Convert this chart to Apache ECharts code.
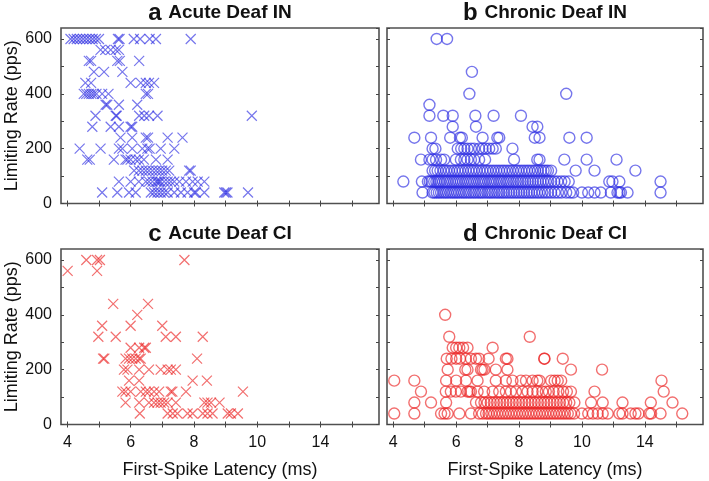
<!DOCTYPE html>
<html><head><meta charset="utf-8">
<script src="https://cdn.jsdelivr.net/npm/echarts@6/dist/echarts.min.js"></script>
<style>html,body{margin:0;padding:0;background:#fff}#c{width:709px;height:481px}</style>
</head><body><div id="c"></div><script>
// ---- axis ticks / labels ----
const xTickValues = [4, 5, 6, 7, 8, 9, 10, 11, 12, 13];
const xLabelValues = [4, 6, 8, 10, 12];
const xLabelTexts = ['4', '6', '8', '10', '14'];
const yLabelValues = [0, 200, 400, 600];

const panelLetters = ['a', 'b', 'c', 'd'];
const panelTitles = ['Acute Deaf IN', 'Chronic Deaf IN', 'Acute Deaf CI', 'Chronic Deaf CI'];

// ---- data: [first-spike latency (axis units), limiting rate (pps)] ----
const acuteIN = [
  [4.1,600],[4.2,600],[4.3,600],[4.4,600],[4.5,600],[4.6,600],[4.7,600],[4.8,600],[4.9,600],[5.0,600],[5.6,600],[5.65,600],[6.1,600],[6.3,600],[6.6,600],[6.8,600],[7.9,600],
  [5.05,560],[5.2,560],[5.37,560],[5.53,560],[5.63,560],
  [4.68,520],[4.75,520],[5.58,520],[5.66,520],[6.27,520],
  [4.84,480],[5.16,480],[5.74,480],
  [4.57,440],[4.75,440],[6.0,440],[6.32,440],[6.48,440],[6.58,440],[6.74,440],
  [4.52,400],[4.6,400],[4.68,400],[4.76,400],[4.84,400],[4.92,400],[5.1,400],[5.3,400],[6.48,400],[6.55,400],
  [5.21,360],[5.26,360],[5.63,360],[6.21,360],
  [4.89,320],[5.53,320],[5.56,320],[6.27,320],[6.43,320],[6.58,320],[6.85,320],[9.83,320],
  [4.79,280],[5.37,280],[5.63,280],[6.0,280],[6.05,280],
  [5.68,240],[6.05,240],[6.48,240],[6.55,240],[7.17,240],[7.64,240],
  [4.39,200],[5.05,200],[5.63,200],[5.74,200],[6.05,200],[6.37,200],[6.53,200],[6.6,200],[6.95,200],[7.38,200],
  [4.63,160],[4.71,160],[5.47,160],[5.84,160],[5.9,160],[6.0,160],[6.16,160],[6.26,160],[6.42,160],[6.8,160],[7.17,160],
  [6.11,120],[6.26,120],[6.37,120],[6.48,120],[6.58,120],[6.69,120],[6.8,120],[6.9,120],[7.0,120],[7.11,120],[7.22,120],[7.85,120],[7.9,120],
  [5.63,80],[6.0,80],[6.26,80],[6.48,80],[6.58,80],[6.69,80],[6.8,80],[6.85,80],[6.9,80],[6.95,80],[7.06,80],[7.17,80],[7.27,80],[7.38,80],[7.54,80],[7.75,80],[7.96,80],[8.12,80],[8.33,80],
  [5.1,40],[5.58,40],[5.95,40],[6.16,40],[6.64,40],[6.74,40],[6.85,40],[6.95,40],[7.06,40],[7.17,40],[7.38,40],[7.59,40],[7.8,40],[8.01,40],[8.06,40],[8.33,40],[8.96,40],[9.01,40],[9.06,40],[9.71,40]
];

const chronicIN = [
  [5.38,600],[5.71,600],
  [6.5,480],
  [6.42,400],[9.5,400],
  [5.15,360],
  [5.15,320],[5.59,320],[5.89,320],[6.61,320],[7.19,320],[8.06,320],
  [5.89,280],[6.63,280],[8.43,280],[8.58,280],
  [4.67,240],[5.2,240],[5.81,240],[6.12,240],[6.18,240],[6.84,240],[7.31,240],[7.37,240],[8.5,240],[8.65,240],[9.6,240],[10.15,240],
  [5.25,200],[5.34,200],[6.05,200],[6.16,200],[6.26,200],[6.36,200],[6.47,200],[6.57,200],[6.73,200],[6.84,200],[6.94,200],[7.05,200],[7.16,200],[7.26,200],[7.79,200],
  [4.88,160],[5.15,160],[5.25,160],[5.36,160],[5.52,160],[5.62,160],[5.99,160],[6.15,160],[6.26,160],[6.36,160],[6.47,160],[6.57,160],[6.73,160],[6.92,160],[7.84,160],[8.58,160],[8.65,160],[9.44,160],[10.15,160],[11.1,160],
  [5.25,120],[5.33,120],[5.41,120],[5.5,120],[5.6,120],[5.68,120],[5.77,120],[5.86,120],[5.95,120],[6.04,120],[6.12,120],[6.21,120],[6.3,120],[6.39,120],[6.48,120],[6.56,120],[6.65,120],[6.74,120],[6.83,120],[6.92,120],[7.0,120],[7.09,120],[7.18,120],[7.27,120],[7.36,120],[7.45,120],[7.53,120],[7.62,120],[7.71,120],[7.8,120],[7.9,120],[7.98,120],[8.07,120],[8.16,120],[8.25,120],[8.33,120],[8.42,120],[8.51,120],[8.6,120],[8.7,120],[8.78,120],[8.85,120],[8.92,120],[9.02,120],[9.8,120],[10.4,120],[11.7,120],
  [4.32,80],[4.91,80],[5.1,80],[5.16,80],[5.22,80],[5.3,80],[5.37,80],[5.44,80],[5.5,80],[5.58,80],[5.65,80],[5.72,80],[5.8,80],[5.87,80],[5.94,80],[6.01,80],[6.08,80],[6.15,80],[6.22,80],[6.3,80],[6.37,80],[6.44,80],[6.51,80],[6.58,80],[6.66,80],[6.73,80],[6.8,80],[6.87,80],[6.94,80],[7.02,80],[7.09,80],[7.16,80],[7.23,80],[7.3,80],[7.38,80],[7.45,80],[7.52,80],[7.6,80],[7.67,80],[7.74,80],[7.82,80],[7.9,80],[7.97,80],[8.05,80],[8.12,80],[8.2,80],[8.28,80],[8.36,80],[8.44,80],[8.52,80],[8.6,80],[8.68,80],[8.76,80],[8.85,80],[8.93,80],[9.02,80],[9.12,80],[9.22,80],[9.34,80],[9.45,80],[9.58,80],[10.87,80],[10.97,80],[11.19,80],[12.5,80],
  [4.93,40],[5.25,40],[5.31,40],[5.38,40],[5.45,40],[5.52,40],[5.6,40],[5.67,40],[5.74,40],[5.82,40],[5.89,40],[5.96,40],[6.03,40],[6.1,40],[6.18,40],[6.25,40],[6.32,40],[6.4,40],[6.47,40],[6.55,40],[6.62,40],[6.7,40],[6.77,40],[6.84,40],[6.92,40],[7.0,40],[7.07,40],[7.14,40],[7.22,40],[7.3,40],[7.37,40],[7.45,40],[7.52,40],[7.6,40],[7.68,40],[7.76,40],[7.84,40],[7.92,40],[8.0,40],[8.08,40],[8.16,40],[8.24,40],[8.32,40],[8.4,40],[8.48,40],[8.57,40],[8.65,40],[8.74,40],[8.83,40],[8.92,40],[9.02,40],[9.13,40],[9.24,40],[9.35,40],[9.5,40],[9.62,40],[9.72,40],[10.0,40],[10.2,40],[10.4,40],[10.6,40],[10.92,40],[11.13,40],[11.19,40],[11.24,40],[11.45,40],[12.5,40]
];

const acuteCI = [
  [4.6,600],[4.94,600],[5.03,600],[7.7,600],
  [4.01,560],[4.94,560],
  [5.45,440],[6.55,440],
  [6.21,400],
  [5.1,360],[6.0,360],[7.0,360],
  [4.98,320],[5.53,320],[7.11,320],[7.43,320],[8.28,320],
  [6.0,280],[6.27,280],[6.43,280],[6.48,280],
  [5.13,240],[5.17,240],[5.84,240],[5.95,240],[6.05,240],[6.16,240],[6.27,240],[6.32,240],[8.1,240],
  [5.79,200],[5.9,200],[6.27,200],[6.58,200],[6.95,200],[7.17,200],[7.27,200],[7.43,200],
  [5.95,160],[6.27,160],[7.96,160],[8.41,160],
  [5.74,120],[5.84,120],[6.0,120],[6.32,120],[6.48,120],[6.58,120],[6.74,120],[6.9,120],[7.27,120],[7.32,120],[7.75,120],[9.55,120],
  [5.84,80],[6.27,80],[6.58,80],[6.74,80],[6.85,80],[6.95,80],[7.06,80],[7.17,80],[7.43,80],[8.33,80],[8.43,80],[8.54,80],[8.81,80],
  [6.29,40],[7.17,40],[7.33,40],[7.48,40],[7.8,40],[7.96,40],[8.28,40],[8.43,40],[8.59,40],[9.07,40],[9.17,40],[9.39,40]
];

const chronicCI = [
  [5.65,400],
  [5.78,320],[8.34,320],
  [5.89,280],[6.0,280],[6.1,280],[6.22,280],[6.36,280],[7.16,280],
  [5.7,240],[5.85,240],[6.0,240],[6.12,240],[6.31,240],[6.47,240],[6.63,240],[6.73,240],[7.03,240],[7.58,240],[7.63,240],[8.8,240],[8.81,240],[9.39,240],
  [5.73,200],[6.29,200],[6.36,200],[6.79,200],[6.84,200],[6.9,200],[7.26,200],[7.63,200],[9.65,200],[10.64,200],
  [4.03,160],[4.67,160],[5.68,160],[6.0,160],[6.31,160],[6.68,160],[7.26,160],[7.58,160],[7.79,160],[8.06,160],[8.22,160],[8.43,160],[8.58,160],[8.65,160],[9.02,160],[9.13,160],[9.23,160],[9.34,160],[12.53,160],
  [4.88,120],[5.67,120],[5.83,120],[5.99,120],[6.15,120],[6.36,120],[6.42,120],[6.47,120],[6.68,120],[6.89,120],[7.16,120],[7.37,120],[7.58,120],[7.74,120],[7.9,120],[8.11,120],[8.27,120],[8.43,120],[8.58,120],[8.74,120],[8.85,120],[8.95,120],[9.1,120],[9.25,120],[9.4,120],[9.52,120],[9.65,120],[10.4,120],[12.6,120],
  [4.67,80],[5.2,80],[5.68,80],[6.63,80],[6.79,80],[6.9,80],[7.0,80],[7.1,80],[7.2,80],[7.3,80],[7.4,80],[7.5,80],[7.6,80],[7.7,80],[7.8,80],[7.9,80],[8.0,80],[8.1,80],[8.2,80],[8.3,80],[8.4,80],[8.5,80],[8.6,80],[8.7,80],[8.8,80],[8.9,80],[9.0,80],[9.1,80],[9.2,80],[9.3,80],[9.4,80],[9.5,80],[9.6,80],[9.76,80],[10.29,80],[10.66,80],[11.29,80],[12.19,80],[12.88,80],
  [4.03,40],[4.67,40],[5.52,40],[5.63,40],[5.73,40],[6.1,40],[6.47,40],[6.73,40],[6.84,40],[6.95,40],[7.03,40],[7.12,40],[7.21,40],[7.3,40],[7.39,40],[7.48,40],[7.57,40],[7.66,40],[7.75,40],[7.84,40],[7.93,40],[8.02,40],[8.11,40],[8.2,40],[8.29,40],[8.38,40],[8.47,40],[8.56,40],[8.65,40],[8.74,40],[8.83,40],[8.92,40],[9.01,40],[9.1,40],[9.19,40],[9.28,40],[9.37,40],[9.46,40],[9.55,40],[9.64,40],[9.75,40],[10.0,40],[10.2,40],[10.35,40],[10.5,40],[10.66,40],[10.82,40],[11.19,40],[11.29,40],[11.55,40],[11.7,40],[11.8,40],[12.14,40],[12.2,40],[12.5,40],[13.19,40]
];

// ---- layout / style ----
const FONT = 'Liberation Sans, Arial, sans-serif';
const BLUE = 'rgba(40,40,225,0.8)';
const RED = 'rgba(235,30,30,0.8)';
const X_SYMBOL = 'path://M0,0L10,10M10,0L0,10';
const panelData = [acuteIN, chronicIN, acuteCI, chronicCI];
const panelColors = [BLUE, BLUE, RED, RED];
const panelCross = [true, false, true, false];
const gridBoxes = [
  {left: 61, top: 28, width: 318, height: 175.5},
  {left: 387, top: 28, width: 316, height: 175.5},
  {left: 61, top: 249, width: 318, height: 175.5},
  {left: 387, top: 249, width: 316, height: 175.5}
];

const grids = [], xAxes = [], yAxes = [], series = [], graphics = [];
const tickStyle = {show: true, inside: true, length: 3, lineStyle: {color: '#444', width: 1}};

gridBoxes.forEach((g, i) => {
  grids.push(Object.assign({show: true, borderColor: '#505050', borderWidth: 1.6, backgroundColor: 'transparent'}, g));
  const bottomRow = i >= 2, leftCol = i % 2 === 0;
  xAxes.push({
    type: 'value', gridIndex: i, position: 'bottom', min: 3.8, max: 13.85,
    axisLine: {show: false}, splitLine: {show: false},
    axisTick: Object.assign({customValues: xTickValues}, tickStyle),
    axisLabel: {
      show: bottomRow, customValues: xLabelValues, margin: 10,
      fontFamily: FONT, fontSize: 16, color: '#111',
      formatter: v => xLabelTexts[xLabelValues.indexOf(v)] || ''
    },
    name: bottomRow ? 'First-Spike Latency (ms)' : '', nameLocation: 'middle', nameGap: 37,
    nameTextStyle: {fontFamily: FONT, fontSize: 18, color: '#111'}
  });
  xAxes.push({
    type: 'value', gridIndex: i, position: 'top', min: 3.8, max: 13.85,
    axisLine: {show: false}, splitLine: {show: false},
    axisTick: Object.assign({customValues: xTickValues}, tickStyle),
    axisLabel: {show: false}
  });
  yAxes.push({
    type: 'value', gridIndex: i, position: 'left', min: 0, max: 640, interval: 100,
    axisLine: {show: false}, splitLine: {show: false},
    axisTick: tickStyle,
    axisLabel: {
      show: leftCol, margin: 9, showMaxLabel: false,
      fontFamily: FONT, fontSize: 16, color: '#111',
      formatter: v => yLabelValues.indexOf(v) >= 0 ? String(v) : ''
    },
    name: leftCol ? 'Limiting Rate (pps)' : '', nameLocation: 'middle', nameGap: 40,
    nameTextStyle: {fontFamily: FONT, fontSize: 18, color: '#111'}
  });
  yAxes.push({
    type: 'value', gridIndex: i, position: 'right', min: 0, max: 640, interval: 100,
    axisLine: {show: false}, splitLine: {show: false},
    axisTick: tickStyle, axisLabel: {show: false}
  });

  series.push({
    type: 'scatter', xAxisIndex: i * 2, yAxisIndex: i * 2,
    data: panelData[i],
    symbol: panelCross[i] ? X_SYMBOL : 'circle',
    symbolSize: panelCross[i] ? 10 : 11,
    itemStyle: {color: 'rgba(0,0,0,0)', borderColor: panelColors[i], borderWidth: panelCross[i] ? 1.2 : 1.4},
    emphasis: {disabled: true},
    silent: true
  });

  graphics.push({
    type: 'text',
    x: g.left + g.width / 2, y: g.top - 15,
    style: {
      text: '{l|' + panelLetters[i] + '}  {t|' + panelTitles[i] + '}',
      align: 'center', verticalAlign: 'middle',
      rich: {
        l: {fontFamily: FONT, fontSize: 24, fontWeight: 'bold', fill: '#111'},
        t: {fontFamily: FONT, fontSize: 19, fontWeight: 'bold', fill: '#111'}
      }
    }
  });
});

const chart = echarts.init(document.getElementById('c'), null, {renderer: 'canvas'});
chart.setOption({
  animation: false,
  backgroundColor: '#fff',
  grid: grids, xAxis: xAxes, yAxis: yAxes, series: series, graphic: graphics
});
</script></body></html>
